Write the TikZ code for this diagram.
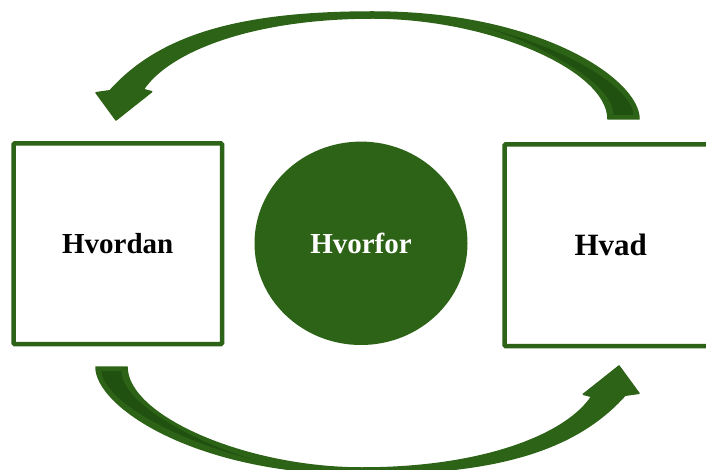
\documentclass[tikz,border=0pt]{standalone}
\usepackage{fontspec}
\setmainfont{Liberation Serif}
\usetikzlibrary{shapes.geometric}
\definecolor{leaf}{HTML}{2D6316}
\definecolor{leafdark}{HTML}{215111}
\tikzset{
  stage/.style={rectangle, draw=leaf, line width=4.5pt, fill=white, inner sep=0pt,
    rounded corners=1pt, text=black, font=\bfseries\fontsize{29}{34}\selectfont},
  core/.style={ellipse, fill=leaf, inner sep=0pt, text=white,
    font=\bfseries\fontsize{29}{34}\selectfont},
  band/.style={fill=leaf, draw=leaf, line width=1.5pt, line join=round},
  underside/.style={fill=leafdark},
}
% curved block arrow: tail on the right, head pointing down at the left
\newcommand\bendarrow{%
  \path[band] (639,119) .. controls (639,80) and (540,12) .. (373,12)
    .. controls (240,12) and (160,35) .. (110,90.7)
    -- (96,92.7) -- (116,120) -- (151.7,91.7) -- (143.3,89.5)
    .. controls (168,52) and (250,18) .. (373,18)
    .. controls (490,18) and (608,70) .. (608,119) -- cycle;
  % darker underside of the ribbon near the tail
  \path[underside] (613.5,115) -- (633.5,115)
    .. controls (632,90) and (575,50) .. (480,26)
    .. controls (530,40) and (613.5,80) .. (613.5,115) -- cycle;%
}
\begin{document}
\begin{tikzpicture}[x=1pt, y=-1pt]
  \useasboundingbox (0,0) rectangle (706,470);
  \clip (0,0) rectangle (706,470);

  % the two cycle arrows
  \begin{scope}
    \bendarrow
  \end{scope}
  \begin{scope}[rotate around={180:(367.5,243)}]
    \bendarrow
  \end{scope}

  % boxes and centre
  \node[stage, minimum width=208.5pt, minimum height=200.5pt] (hvordan) at (117.75,243.75) {Hvordan};
  \node[core, minimum width=213pt, minimum height=203.4pt] (hvorfor) at (361,243.3) {Hvorfor};
  \node[stage, minimum width=212.5pt, minimum height=201.5pt,
        font=\bfseries\fontsize{31}{36}\selectfont] (hvad) at (610.75,245.25) {Hvad};
\end{tikzpicture}
\end{document}
